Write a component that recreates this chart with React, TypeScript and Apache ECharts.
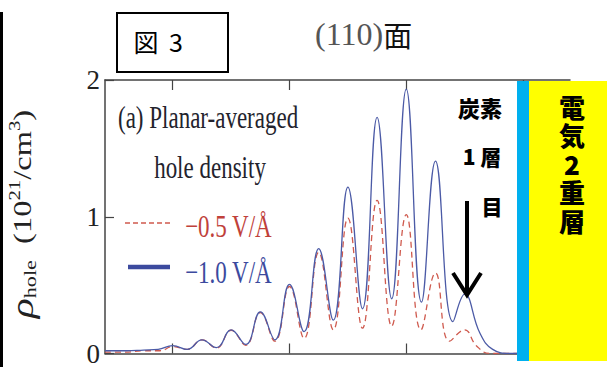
import React, { useEffect, useRef } from "react";
import * as echarts from "echarts";

// Depth coordinate (arbitrary units, tick every 10)
const blueX = [4.2, 6, 7.5, 8.75, 10, 11.25, 12.5, 13.75, 15, 16.25, 17.5, 18.75, 20, 21.25, 22.5, 23.75, 25, 26.25, 27.5, 28.75, 30, 31.3, 32.5, 34.0, 35, 36.3, 37.4, 38.9, 44];
const blueY = [0.02, 0.02, 0.025, 0.03, 0.057, 0.03, 0.1, 0.043, 0.173, 0.066, 0.304, 0.1, 0.505, 0.16, 0.767, 0.244, 1.217, 0.327, 1.727, 0.4, 1.934, 0.375, 1.407, 0.233, 0.434, 0.15, 0.03, 0.0, 0.0];
const redX = [4.2, 6, 7.4, 8.9, 10, 11.25, 12.5, 13.75, 15, 16.25, 17.5, 18.75, 20, 21.25, 22.5, 23.75, 25, 26.25, 27.5, 28.75, 30, 31.25, 32.5, 33.7, 35, 36.0, 37.2, 44];
const redY = [0.01, 0.01, 0.02, 0.02, 0.05, 0.03, 0.1, 0.04, 0.17, 0.06, 0.3, 0.09, 0.49, 0.11, 0.74, 0.173, 0.99, 0.185, 1.12, 0.2, 1.015, 0.173, 0.59, 0.09, 0.173, 0.057, 0.0, 0.0];
const xTicks = [10, 20, 30, 40];
const yTickLabels = ["0", "1", "2"];
const seriesNames = ["−0.5 V/Å", "−1.0 V/Å"];
const edlChars = ["電", "気", "2", "重", "層"];

const SERIF = "'Liberation Serif', 'DejaVu Serif', serif";
const JP = "'Noto Sans CJK JP', sans-serif";
const RED = "#cf5a4e";
const BLUE = "#4b5aa6";

export default function App() {
  const ref = useRef<HTMLDivElement>(null);
  useEffect(() => {
    if (!ref.current) return;
    const chart = echarts.init(ref.current, null, { renderer: "svg" });
    const axisBase = {
      type: "value" as const,
      min: 4.2,
      max: 44.02,
      axisLine: { show: true, lineStyle: { color: "#444", width: 1.5 } },
      axisTick: { show: true, inside: true, length: 10, customValues: xTicks, lineStyle: { color: "#444", width: 1.2 } },
      axisLabel: { show: false },
      splitLine: { show: false },
    };
    chart.setOption({
      animation: false,
      grid: { left: 105, right: 37, top: 80, bottom: 6 },
      xAxis: [
        { ...axisBase, position: "bottom" },
        { ...axisBase, position: "top" },
      ],
      yAxis: {
        type: "value",
        min: 0,
        max: 2,
        interval: 1,
        axisLine: { show: true, lineStyle: { color: "#444", width: 1.5 } },
        axisTick: { show: true, inside: true, length: 9, lineStyle: { color: "#444", width: 1.2 } },
        axisLabel: {
          fontFamily: SERIF,
          fontSize: 27,
          color: "#222",
          margin: 5,
          formatter: (v: number) => yTickLabels[Math.round(v)] ?? "",
        },
        splitLine: { show: false },
      },
      series: [
        {
          name: seriesNames[0],
          type: "line",
          data: redX.map((x, i) => [x, redY[i]]),
          smooth: 0.45,
          showSymbol: false,
          lineStyle: { color: RED, width: 1.3, type: [6, 4] },
          z: 2,
        },
        {
          name: seriesNames[1],
          type: "line",
          data: blueX.map((x, i) => [x, blueY[i]]),
          smooth: 0.45,
          showSymbol: false,
          lineStyle: { color: BLUE, width: 1.3 },
          z: 3,
        },
      ],
      graphic: [
        { type: "rect", z: 100, shape: { x: 0, y: 12, width: 3, height: 355 }, style: { fill: "#000" } },
        { type: "rect", z: 100, shape: { x: 117, y: 13, width: 111, height: 59 }, style: { fill: "#fff", stroke: "#000", lineWidth: 2 } },
        { type: "text", z: 101, x: 146, y: 41, style: { text: "図", font: `25px ${JP}`, fill: "#000", align: "center", verticalAlign: "middle" } },
        { type: "text", z: 101, x: 176, y: 41, style: { text: "3", font: `25px ${JP}`, fill: "#000", align: "center", verticalAlign: "middle" } },
        {
          type: "text", z: 101, x: 315, y: 34,
          style: {
            text: "{a|(110)}{b|面}",
            align: "left", verticalAlign: "middle",
            rich: {
              a: { fontFamily: SERIF, fontSize: 32, fill: "#555" },
              b: { fontFamily: JP, fontSize: 29, fill: "#111" },
            },
          },
        },
        // panel text
        { type: "text", z: 101, x: 118, y: 117, scaleY: 1.4, style: { text: "(a) Planar-averaged", font: `23px ${SERIF}`, fill: "#23232d", align: "left", verticalAlign: "middle" } },
        { type: "text", z: 101, x: 210, y: 167, scaleY: 1.4, style: { text: "hole density", font: `23px ${SERIF}`, fill: "#23232d", align: "center", verticalAlign: "middle" } },
        { type: "line", z: 101, shape: { x1: 125, y1: 223, x2: 170, y2: 223 }, style: { stroke: RED, lineWidth: 1.5, lineDash: [5, 3] } },
        { type: "text", z: 101, x: 185, y: 226, scaleY: 1.4, style: { text: seriesNames[0], font: `23px ${SERIF}`, fill: "#c0413a", align: "left", verticalAlign: "middle" } },
        { type: "line", z: 101, shape: { x1: 128, y1: 267, x2: 170, y2: 267 }, style: { stroke: "#3c4a9e", lineWidth: 4.5 } },
        { type: "text", z: 101, x: 185, y: 272, scaleY: 1.4, style: { text: seriesNames[1], font: `23px ${SERIF}`, fill: "#3c4a9e", align: "left", verticalAlign: "middle" } },
        // y axis title
        {
          type: "text", z: 101, x: 22, y: 214, rotation: Math.PI / 2, scaleX: 1.3,
          style: {
            text: "{r|ρ}{s|hole}{n|  (10}{p|21}{n|/cm}{p|3}{n|)}",
            align: "center", verticalAlign: "middle",
            rich: {
              r: { fontFamily: SERIF, fontStyle: "italic", fontSize: 32, fill: "#222", lineHeight: 32, verticalAlign: "middle" },
              s: { fontFamily: SERIF, fontSize: 17, fill: "#222", lineHeight: 14, verticalAlign: "bottom" },
              n: { fontFamily: SERIF, fontSize: 25, fill: "#222", lineHeight: 30, verticalAlign: "middle" },
              p: { fontFamily: SERIF, fontSize: 16, fill: "#222", lineHeight: 16, verticalAlign: "top" },
            },
          },
        },
        // carbon layer annotation
        { type: "text", z: 101, x: 480, y: 107, style: { text: "炭素", font: `900 22px ${JP}`, fill: "#000", align: "center", verticalAlign: "middle" } },
        { type: "text", z: 101, x: 482, y: 156, style: { text: "1 層", font: `900 21px ${JP}`, fill: "#000", align: "center", verticalAlign: "middle" } },
        { type: "text", z: 101, x: 492, y: 206, style: { text: "目", font: `900 21px ${JP}`, fill: "#000", align: "center", verticalAlign: "middle" } },
        { type: "line", z: 101, shape: { x1: 467, y1: 201, x2: 467, y2: 292 }, style: { stroke: "#000", lineWidth: 4 } },
        { type: "polyline", z: 101, shape: { points: [[453, 273], [467, 295], [481, 273]] }, style: { stroke: "#000", lineWidth: 4, fill: "none" } },
        // electric double layer
        { type: "rect", z: 100, shape: { x: 517, y: 81, width: 12, height: 280 }, style: { fill: "#00b0ef" } },
        { type: "rect", z: 100, shape: { x: 529, y: 81, width: 78, height: 280 }, style: { fill: "#ffff00" } },
        ...edlChars.map((c, i) => ({
          type: "text", z: 101, x: 572, y: 106 + i * 28.5,
          style: { text: c, font: `900 26px ${JP}`, lineHeight: 27, fill: "#000", align: "center", verticalAlign: "middle" },
        })),
      ],
    });
    return () => chart.dispose();
  }, []);
  return <div ref={ref} style={{ width: 607, height: 367, position: "absolute", left: 0, top: 0 }} />;
}
